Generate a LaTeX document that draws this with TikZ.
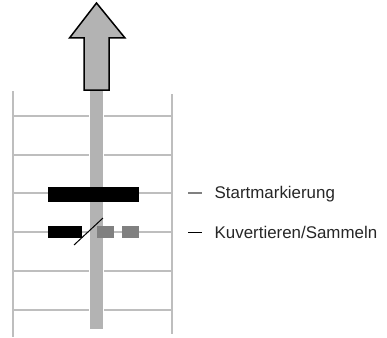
\documentclass[tikz,border=0pt]{standalone}
\usepackage{fontspec}
\setmainfont{Liberation Sans}
\begin{document}
\begin{tikzpicture}[x=1pt,y=-1pt,
  railline/.style={draw=railgray,line width=2pt},
  legendtext/.style={anchor=base west,inner sep=0pt,font=\fontsize{16.9}{20}\selectfont,text=black!85}]
\definecolor{railgray}{RGB}{190,190,190}
\definecolor{bargray}{RGB}{179,179,179}
\definecolor{markgray}{RGB}{128,128,128}
\useasboundingbox (0,0) rectangle (387,337);
% rails
\foreach \yy in {116,155,193,232,271,310}
  \draw[railline] (13,\yy) -- (172,\yy);
\draw[railline] (13,91) -- (13,337);
\draw[railline] (172,94) -- (172,334);
% central bar
\fill[draw=white,line width=1pt,fill=bargray] (89.5,90) rectangle (103.5,329);
% arrow
\draw[fill=bargray,line width=1.5pt,line join=miter] (96.5,3) -- (125,38) -- (109,38) -- (109,90) -- (84,90) -- (84,38) -- (69.5,38) -- cycle;
% start mark
\fill[black] (48,187) rectangle (139,202);
% kuvertieren marks
\fill[black] (48,226) rectangle (82,238);
\fill[markgray] (97,226) rectangle (114,238);
\fill[markgray] (122,226) rectangle (139,238);
\draw[black,line width=1pt] (74,245) -- (103,218);
% legend
\coordinate (d1a) at (188,193); \coordinate (d1b) at (202,193);
\coordinate (d2a) at (188,232.5); \coordinate (d2b) at (202,232.5);
\draw[markgray,line width=1.5pt] (d1a) -- (d1b);
\draw[black,line width=1pt] (d2a) -- (d2b);
\node[legendtext] (t1) at (214.5,198) {Startmarkierung};
\node[legendtext] (t2) at (214.5,238) {Kuvertieren/Sammeln};
\end{tikzpicture}
\end{document}
